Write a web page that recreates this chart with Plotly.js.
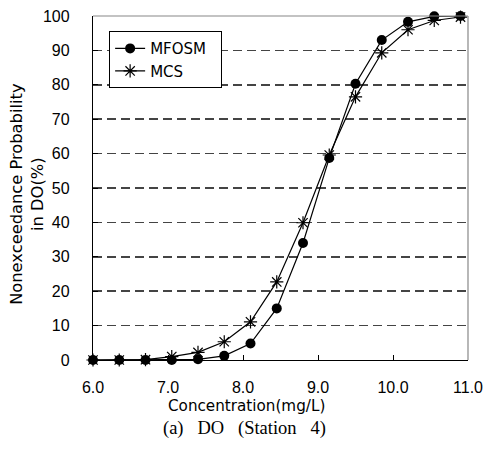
<!DOCTYPE html>
<html>
<head>
<meta charset="utf-8">
<script src="https://cdn.plot.ly/plotly-3.0.1.min.js"></script>
<style>body{margin:0;padding:0;background:#fff;}#chart{width:485px;height:455px;}</style>
</head>
<body>
<div id="chart"></div>
<script>
const concentration = [6.0, 6.35, 6.7, 7.05, 7.4, 7.75, 8.1, 8.45, 8.8, 9.15, 9.5, 9.85, 10.2, 10.55, 10.9];
const mfosm = [0, 0, 0, 0, 0.2, 1.2, 4.8, 15, 34, 58.7, 80.3, 93, 98.3, 99.9, 100];
const mcs = [0, 0, 0.1, 1.0, 2.2, 5.3, 11.1, 22.7, 39.9, 59.6, 76.5, 89.3, 96, 98.7, 99.7];
const seriesNames = ['MFOSM', 'MCS'];
const xTickVals = [6, 7, 8, 9, 10, 11];
const yTickVals = [0, 10, 20, 30, 40, 50, 60, 70, 80, 90, 100];
const xTitle = 'Concentration(mg/L)';
const yTitle = 'Nonexceedance Probability<br>in DO(%)';
const sp = '\u00a0\u00a0\u00a0';
const caption = '(a)' + sp + 'DO' + sp + '(Station' + sp + '4)';
const pad = '\u00a0\u00a0';

const traces = [
  {x: concentration, y: mfosm, name: seriesNames[0] + pad, type: 'scatter', mode: 'lines+markers',
   line: {color: '#000', width: 1.2}, marker: {symbol: 'circle', size: 10, color: '#000'}, cliponaxis: false},
  {x: concentration, y: mcs, name: seriesNames[1] + pad, type: 'scatter', mode: 'lines+markers',
   line: {color: '#000', width: 1.2}, marker: {symbol: 'asterisk-open', size: 11, color: '#000', line: {color: '#000', width: 1.2}}, cliponaxis: false}
];

const tickFont = {family: 'Liberation Sans, Arial, sans-serif', size: 16, color: '#000'};

const layout = {
  width: 485, height: 455,
  margin: {l: 93, r: 17, t: 16, b: 95},
  paper_bgcolor: '#fff', plot_bgcolor: '#fff',
  font: {family: 'DejaVu Sans, sans-serif', color: '#000', size: 15},
  showlegend: true,
  legend: {x: 0.043, y: 0.956, xanchor: 'left', yanchor: 'top', bordercolor: '#000', borderwidth: 1,
           bgcolor: '#fff', font: {size: 15}, tracegroupgap: 4},
  xaxis: {range: [6, 11], tickvals: xTickVals, tickformat: '.1f', ticks: 'inside', ticklen: 5,
          tickcolor: '#000', showgrid: false, zeroline: false, showline: true, linecolor: '#000', linewidth: 1.2,
          ticklabelstandoff: 13, ticklabeloverflow: 'allow', automargin: false, tickfont: tickFont},
  yaxis: {range: [0, 100], tickvals: yTickVals, ticks: 'inside', ticklen: 5, tickcolor: '#000',
          showgrid: true, gridcolor: '#444', griddash: '9px,5px', gridwidth: 1.5, zeroline: false,
          showline: true, linecolor: '#000', linewidth: 1.2, ticklabelstandoff: 19, ticklabeloverflow: 'allow',
          automargin: false, tickfont: tickFont},
  shapes: [
    {type: 'line', xref: 'paper', yref: 'paper', x0: 0, x1: 1, y0: 1, y1: 1, line: {color: '#888', width: 1.2}},
    {type: 'line', xref: 'paper', yref: 'paper', x0: 1, x1: 1, y0: 0, y1: 1, line: {color: '#888', width: 1.2}}
  ],
  annotations: [
    {text: yTitle, xref: 'paper', yref: 'paper', x: -0.176, y: 0.483, xanchor: 'center', yanchor: 'middle',
     textangle: -90, showarrow: false, font: {size: 16.3, color: '#000'}},
    {text: xTitle, xref: 'paper', yref: 'paper', x: 0.408, y: -0.133, xanchor: 'center', yanchor: 'middle',
     showarrow: false, font: {size: 15.2, color: '#000'}},
    {text: caption, xref: 'paper', yref: 'paper', x: 0.405, y: -0.2, xanchor: 'center', yanchor: 'middle',
     showarrow: false, font: {family: 'Liberation Serif, Times New Roman, serif', size: 18.5, color: '#000'}}
  ]
};

Plotly.newPlot('chart', traces, layout, {displayModeBar: false, staticPlot: true});
</script>
</body>
</html>
